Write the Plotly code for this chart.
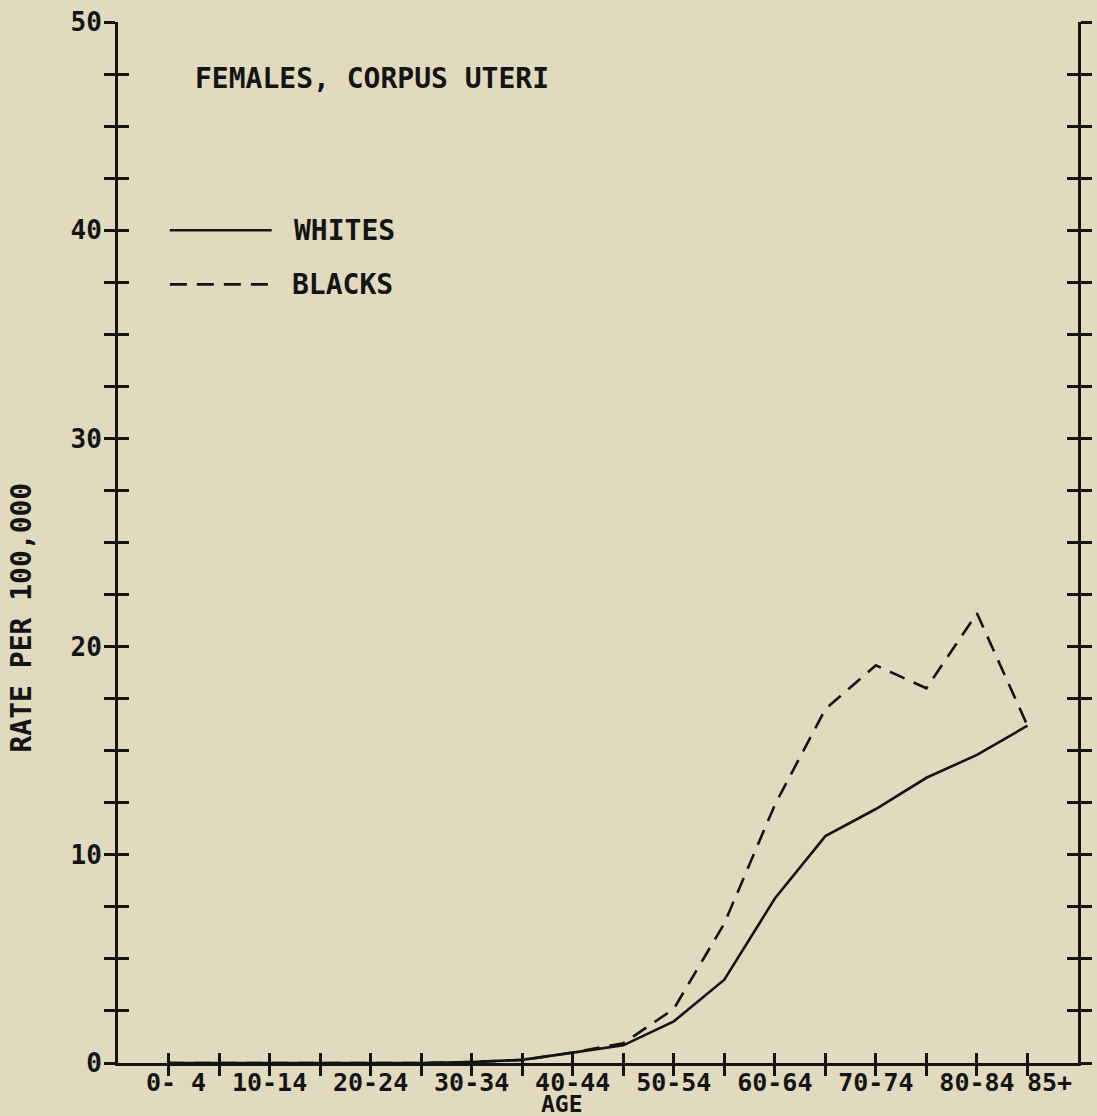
import plotly.graph_objects as go

# ---- data ----
age_groups = ["0-4", "5-9", "10-14", "15-19", "20-24", "25-29", "30-34", "35-39",
              "40-44", "45-49", "50-54", "55-59", "60-64", "65-69", "70-74", "75-79",
              "80-84", "85+"]
whites = [0, 0, 0, 0, 0, 0, 0.05, 0.15, 0.5, 0.85, 2.0, 4.0, 7.9, 10.9, 12.2, 13.7, 14.8, 16.2]
blacks = [0, 0, 0, 0, 0, 0, 0.05, 0.15, 0.5, 0.95, 2.6, 6.7, 12.4, 17.0, 19.1, 18.0, 21.6, 16.2]
xtick_labels = ["\u00a00-\u00a04", "", "10-14", "", "20-24", "", "30-34", "", "40-44", "",
                "50-54", "", "60-64", "", "70-74", "", "80-84", ""]
last_label = "85+"
y_tick_vals = [i * 2.5 for i in range(21)]
y_tick_text = [str(int(v)) if v % 10 == 0 else "" for v in y_tick_vals]
title_text = "FEMALES, CORPUS UTERI"
y_title = "RATE PER 100,000"
x_title = "AGE"

BG = "#E1DABF"
INK = "#141414"
FONT = "DejaVu Sans Mono"

x_idx = list(range(len(age_groups)))

fig = go.Figure()
fig.add_trace(go.Scatter(x=x_idx, y=whites, mode="lines", name="WHITES",
                         line=dict(color=INK, width=2.6), showlegend=False,
                         hovertext=age_groups))
fig.add_trace(go.Scatter(x=x_idx, y=blacks, mode="lines", name="BLACKS",
                         line=dict(color=INK, width=2.6, dash="16px,10px"), showlegend=False,
                         hovertext=age_groups))
# invisible trace to anchor the overlay axes (inner halves of crossing ticks)
fig.add_trace(go.Scatter(x=[x_idx[0]], y=[whites[0]], xaxis="x2", yaxis="y2",
                         mode="markers", marker=dict(opacity=0), showlegend=False,
                         hoverinfo="skip"))

tickfont = dict(family=FONT, size=25, color=INK, weight="bold")
ytickfont = dict(family=FONT, size=26, color=INK, weight="bold")

common_x = dict(range=[-1, 18], tickmode="array", tickvals=x_idx, ticklen=10,
                tickwidth=2.5, tickcolor=INK, showgrid=False, zeroline=False,
                fixedrange=True, automargin=False)
common_y = dict(range=[0, 50], tickmode="array", tickvals=y_tick_vals, ticklen=11,
                tickwidth=2.5, tickcolor=INK, showgrid=False, zeroline=False,
                fixedrange=True, automargin=False)

fig.update_layout(
    width=1097, height=1116,
    margin=dict(l=118, r=19, t=22, b=53),
    paper_bgcolor=BG, plot_bgcolor=BG,
    showlegend=False,
    xaxis=dict(**common_x, ticks="outside", ticktext=xtick_labels, tickangle=0,
               showline=True, linecolor=INK, linewidth=3, tickfont=tickfont,
               ticklabelstandoff=-15),
    xaxis2=dict(**common_x, ticks="inside", overlaying="x", showticklabels=False,
                showline=False),
    yaxis=dict(**common_y, ticks="outside", ticktext=y_tick_text, showline=True,
               linecolor=INK, linewidth=3, mirror="ticks", tickfont=ytickfont,
               ticklabelstandoff=-3),
    yaxis2=dict(**common_y, ticks="inside", overlaying="y", showticklabels=False,
                showline=False, mirror="ticks"),
)

# last age label sits just right of its tick, as in the original
fig.add_annotation(text=last_label, xref="x", yref="paper", x=x_idx[-1], y=-0.0192,
                   xanchor="left", yanchor="middle", xshift=-2, showarrow=False,
                   font=tickfont)

annot_font = dict(family=FONT, size=28, color=INK, weight="bold")
fig.add_annotation(text=title_text, xref="paper", yref="paper", x=0.078, y=0.946,
                   xanchor="left", yanchor="middle", showarrow=False, font=annot_font)
fig.add_annotation(text=y_title, xref="paper", yref="paper", x=-0.101, y=0.428,
                   xanchor="center", yanchor="middle", textangle=-90, showarrow=False,
                   font=annot_font)
fig.add_annotation(text=x_title, xref="paper", yref="paper", x=0.463, y=-0.0395,
                   xanchor="center", yanchor="middle", showarrow=False,
                   font=dict(family=FONT, size=23, color=INK, weight="bold"))

# legend key (drawn in paper space, like the original hand-placed key)
fig.add_shape(type="line", xref="paper", yref="y", x0=0.054, x1=0.160, y0=40, y1=40,
              line=dict(color=INK, width=2.6))
fig.add_shape(type="line", xref="paper", yref="y", x0=0.054, x1=0.160, y0=37.4, y1=37.4,
              line=dict(color=INK, width=2.6, dash="17px,10px"))
fig.add_annotation(text="WHITES", xref="paper", yref="y", x=0.181, y=40,
                   xanchor="left", yanchor="middle", showarrow=False, font=annot_font)
fig.add_annotation(text="BLACKS", xref="paper", yref="y", x=0.179, y=37.4,
                   xanchor="left", yanchor="middle", showarrow=False, font=annot_font)

fig.write_html("out.html")
